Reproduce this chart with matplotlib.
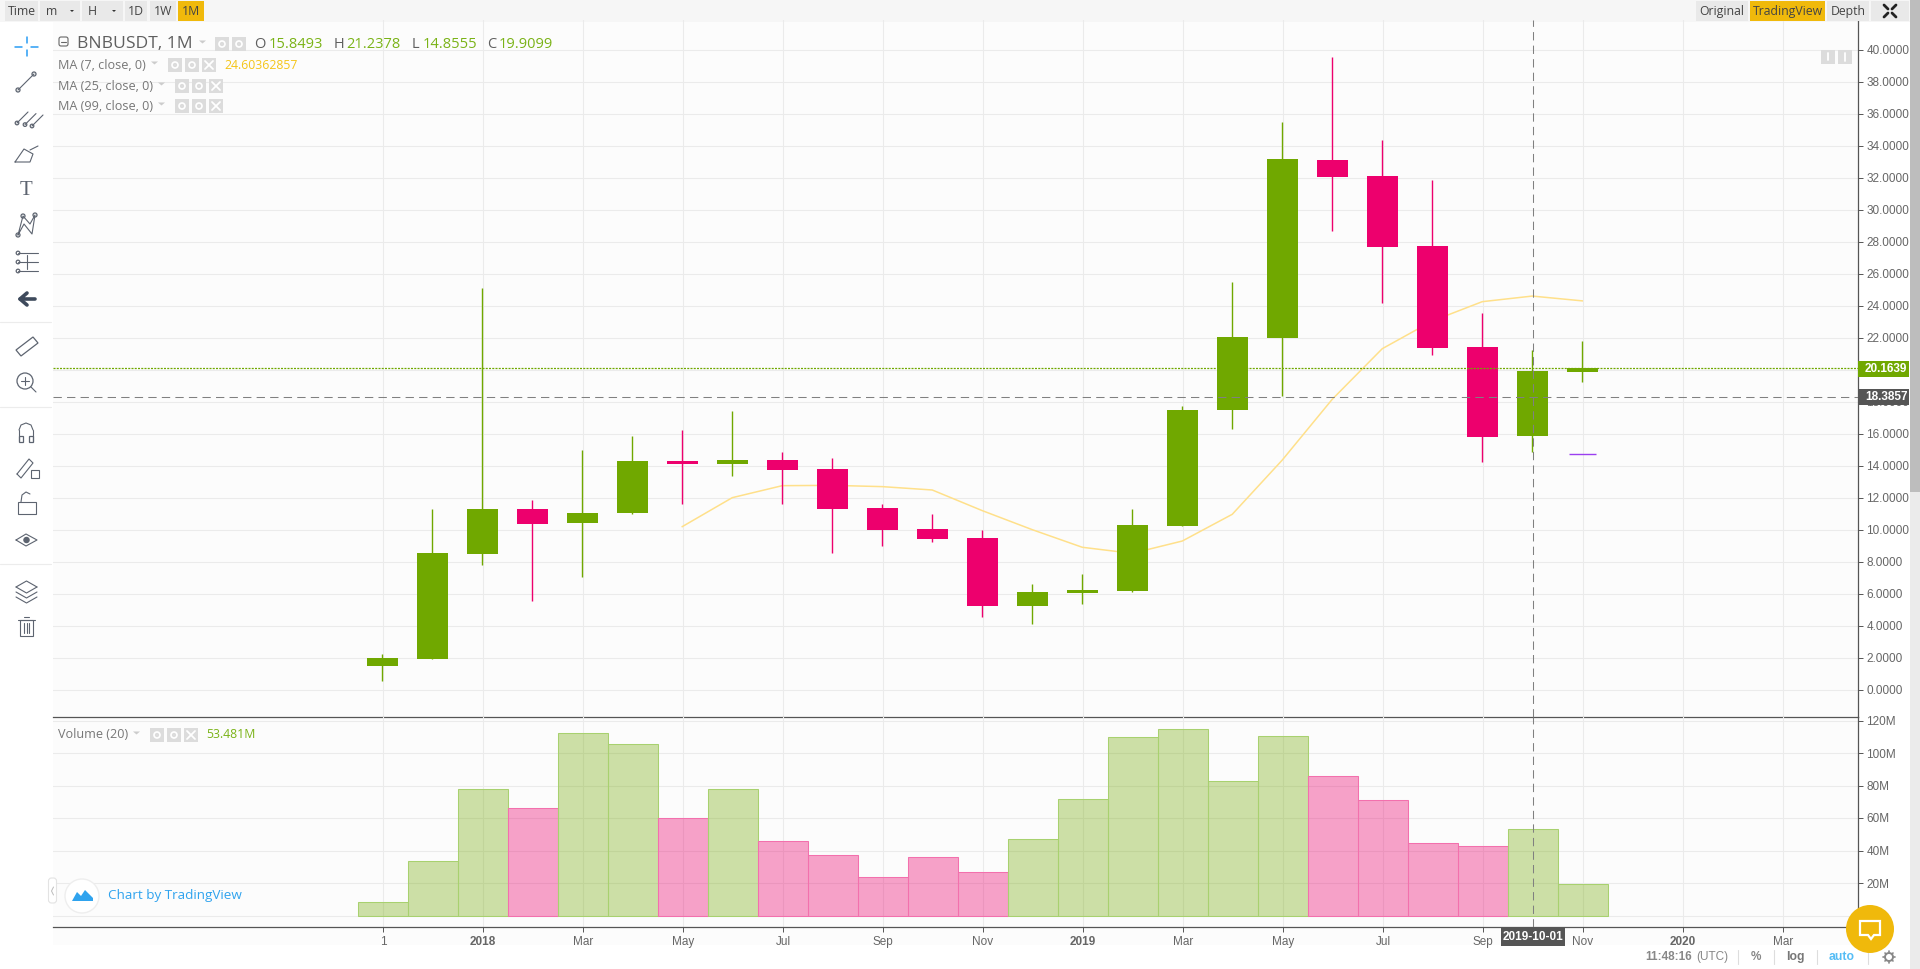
#!/usr/bin/env python3
import matplotlib
matplotlib.use("Agg")
import matplotlib.pyplot as plt
from matplotlib.patches import Rectangle, Circle, Polygon, FancyBboxPatch

W, H = 1920, 969

# ---------- data ----------
months = ["2017-11", "2017-12", "2018-01", "2018-02", "2018-03", "2018-04", "2018-05", "2018-06", "2018-07",
          "2018-08", "2018-09", "2018-10", "2018-11", "2018-12", "2019-01", "2019-02", "2019-03", "2019-04",
          "2019-05", "2019-06", "2019-07", "2019-08", "2019-09", "2019-10", "2019-11"]
opens  = [1.48, 1.92, 8.48, 11.29, 10.42, 11.04, 14.29, 14.10, 14.35, 13.79, 11.35, 10.04, 9.48, 5.23, 6.04,
          6.17, 10.23, 17.48, 21.96, 33.08, 32.08, 27.71, 21.40, 15.8493, 19.83]
closes = [1.98, 8.54, 11.29, 10.35, 11.04, 14.29, 14.10, 14.35, 13.73, 11.29, 9.98, 9.42, 5.23, 6.10, 6.23,
          10.29, 17.50, 22.02, 33.15, 32.02, 27.65, 21.33, 15.77, 19.9099, 20.13]
highs  = [2.23, 11.31, 25.10, 11.85, 14.96, 15.87, 16.23, 17.44, 14.85, 14.48, 11.60, 11.00, 9.98, 6.60, 7.23,
          11.31, 17.73, 25.46, 35.48, 39.54, 34.33, 31.83, 23.54, 21.2378, 21.79]
lows   = [0.54, 1.92, 7.77, 5.54, 7.02, 10.98, 11.60, 13.33, 11.60, 8.54, 8.98, 9.23, 4.54, 4.10, 5.35,
          6.10, 10.20, 16.27, 18.35, 28.67, 24.15, 20.90, 14.25, 14.8555, 19.25]
volumes = [8.2, 33.5, 77.9, 66.2, 112.4, 105.7, 60.0, 77.9, 45.8, 37.2, 23.6, 36.2, 26.7, 47.1, 71.7, 110.0,
           114.9, 82.8, 110.2, 85.9, 71.1, 44.6, 42.8, 53.481, 19.3]
ma7_index = list(range(6, 25))
ma7 = [10.19, 12.00, 12.75, 12.77, 12.69, 12.48, 11.19, 10.00, 8.90, 8.52, 9.29, 10.96, 14.35, 18.15, 21.31,
       23.04, 24.25, 24.60, 24.30]

price_ticks = list(range(0, 42, 2))
volume_ticks = [20, 40, 60, 80, 100, 120]
x_ticks = list(range(0, 30, 2))
x_labels = ["1", "2018", "Mar", "May", "Jul", "Sep", "Nov", "2019", "Mar", "May", "Jul", "Sep", "Nov", "2020", "Mar"]
bold_labels = {"2018", "2019", "2020"}

last_line = 20.08
cross_line = 18.31
cross_month = 23
mark_price = 14.75
mark_month = 24

# ---------- colours ----------
GREEN = "#70a800"
PINK = "#ed006d"
BG = "#fcfcfc"
GRID = "#ebebeb"
AXIS = "#555555"
TXT = "#666666"
ORANGE = "#f0b90b"
BLUE = "#2fa3ee"
ICON = "#5d6470"
SANS = "Open Sans"
ARIAL = "Liberation Sans"

plt.rcParams["font.family"] = ARIAL
fig = plt.figure(figsize=(W / 100, H / 100), dpi=100, facecolor="white")


def add_px_axes(x0, y0, x1, y1, **kw):
    return fig.add_axes([x0 / W, 1 - y1 / H, (x1 - x0) / W, (y1 - y0) / H], **kw)


# axis ranges come from the pixel layout of the page
def x_lim():
    return (53 - 383) / 50, (1858.5 - 383) / 50


back = add_px_axes(0, 0, W, H, zorder=0)
back.set_xlim(0, W); back.set_ylim(H, 0); back.axis("off")
back.add_patch(Rectangle((53, 20), 1806, 925, fc=BG, ec="none"))
back.add_patch(Rectangle((0, 0), 1910, 22, fc="#f6f6f6", ec="none"))

# ---------- price panel ----------
ax = add_px_axes(53, 20, 1858.5, 717, zorder=1)
ax.patch.set_alpha(0)
ax.set_xlim(*x_lim())
ax.set_ylim((689.67 - 717) / 16, (689.67 - 20) / 16)
ax.set_yticks(price_ticks)
ax.set_yticklabels([f"{v:.4f}" for v in price_ticks], fontsize=8.5, color=TXT)
ax.set_xticks(x_ticks)
ax.tick_params(axis="y", left=False, labelleft=False, right=True, labelright=True, length=3.6, width=0.7,
               color=AXIS, pad=2)
ax.tick_params(axis="x", bottom=False, labelbottom=False)
ax.set_axisbelow(True)
ax.grid(True, color=GRID, linewidth=0.8)
for name, spine in ax.spines.items():
    spine.set_visible(name in ("right", "bottom"))
    spine.set_color(AXIS)
    spine.set_linewidth(0.9)

idx = list(range(len(months)))
cx = [i - 0.015 for i in idx]
colors = [GREEN if c >= o else PINK for o, c in zip(opens, closes)]
ax.plot([cx[i] for i in ma7_index], ma7, color="#ffe08a", linewidth=1.1, zorder=2)
ax.vlines(cx, lows, highs, colors=colors, linewidth=1.0, zorder=3)
ax.bar(cx, [abs(c - o) for o, c in zip(opens, closes)], bottom=[min(o, c) for o, c in zip(opens, closes)],
       width=0.62, color=colors, linewidth=0, zorder=4)
ax.hlines(mark_price, mark_month - 0.27, mark_month + 0.27, color="#9b3ff0", linewidth=1.0, zorder=4)
ax.axhline(last_line, color=GREEN, linewidth=0.9, linestyle=(0, (1.6, 1)), zorder=5)
ax.axhline(cross_line, color="#808080", linewidth=0.75, linestyle=(0, (8, 5)), zorder=5)
ax.axvline(cross_month, color="#808080", linewidth=0.75, linestyle=(0, (8, 5)), zorder=5)

# ---------- volume panel ----------
av = add_px_axes(53, 717, 1858.5, 927, zorder=1)
av.patch.set_alpha(0)
av.set_xlim(*x_lim())
av.set_ylim((915.5 - 927) / 1.625, (915.5 - 717) / 1.625)
av.set_yticks([0] + volume_ticks)
av.set_yticklabels([""] + [f"{v}M" for v in volume_ticks], fontsize=8.5, color=TXT)
av.set_xticks(x_ticks)
av.set_xticklabels(x_labels, fontsize=8.5, color=TXT)
for t in av.get_xticklabels():
    if t.get_text() in bold_labels:
        t.set_fontweight("bold")
av.tick_params(axis="y", left=False, labelleft=False, right=True, labelright=True, length=3.6, width=0.7,
               color=AXIS, pad=2)
av.tick_params(axis="x", length=3.6, width=0.7, color=AXIS, pad=3)
av.set_axisbelow(True)
av.grid(True, color=GRID, linewidth=0.8)
for name, spine in av.spines.items():
    spine.set_visible(name in ("right", "bottom"))
    spine.set_color(AXIS)
    spine.set_linewidth(0.9)
fills = [(0.44, 0.66, 0.0, 0.34) if c == GREEN else (0.93, 0.0, 0.43, 0.36) for c in colors]
edges = ["#a8d16f" if c == GREEN else "#f370ad" for c in colors]
av.bar(idx, volumes, width=1.0, color=fills, edgecolor=edges, linewidth=0.75, zorder=3)
av.axvline(cross_month, color="#808080", linewidth=0.75, linestyle=(0, (8, 5)), zorder=5)

# ---------- page furniture, in pixels ----------
ov = add_px_axes(0, 0, W, H, zorder=5)
ov.set_xlim(0, W); ov.set_ylim(H, 0); ov.axis("off"); ov.patch.set_alpha(0)


def line(xs, ys, color=ICON, lw=1.0):
    ov.plot(xs, ys, color=color, linewidth=lw, solid_capstyle="round")


def ring(x, y, r, color=ICON, lw=0.9, fc="none"):
    ov.add_patch(Circle((x, y), r, fc=fc, ec=color, lw=lw))


def box(x0, y0, x1, y1, fc, ec="none"):
    ov.add_patch(Rectangle((x0, y0), x1 - x0, y1 - y0, fc=fc, ec=ec, lw=0.8))


def label(x, y, s, size=8.5, color=TXT, ha="left", weight="normal", family=ARIAL):
    ov.text(x, y, s, fontsize=size, color=color, ha=ha, va="center", fontweight=weight, family=family)


# top bar buttons
for x0, x1, s, fc in [(5, 38, "Time", "#e9e9e9"), (40, 80, "m", "#e9e9e9"), (82, 123, "H", "#e9e9e9"),
                      (125, 147, "1D", "#e9e9e9"), (150, 176, "1W", "#e9e9e9"), (178, 204, "1M", ORANGE)]:
    box(x0, 1, x1, 21, fc)
    if s in ("m", "H"):
        label(x0 + 6, 11, s, 8.8, "#444444", family=SANS)
        ov.add_patch(Polygon([(x0 + 30, 10), (x0 + 34, 10), (x0 + 32, 12)], fc="#333333", ec="none"))
    else:
        label((x0 + x1) / 2, 11, s, 8.8, "#444444", ha="center", family=SANS)
for x0, x1, s, fc in [(1696, 1748, "Original", "#e9e9e9"), (1750, 1825, "TradingView", ORANGE),
                      (1827, 1869, "Depth", "#e9e9e9")]:
    box(x0, 1, x1, 21, fc)
    label((x0 + x1) / 2, 11, s, 8.8, "#444444", ha="center", family=SANS)
box(1871, 1, 1909, 21, "#e9e9e9")
for sx, sy in [(-1, -1), (1, -1), (-1, 1), (1, 1)]:
    line([1890 + sx * 2, 1890 + sx * 6], [11 + sy * 2, 11 + sy * 6], "#222222", 2.0)

# scroll bar
back.add_patch(Rectangle((1910, 0), 10, H, fc="#ebebeb", ec="none"))
back.add_patch(Rectangle((1910, 0), 10, 492, fc="#bdbdbd", ec="none"))

# legend
ov.add_patch(FancyBboxPatch((59, 37), 9, 9, boxstyle="round,pad=0,rounding_size=2", fc="none", ec="#666666", lw=0.8))
line([61, 66], [41.5, 41.5], "#666666", 0.8)
label(77, 43.5, "BNBUSDT, 1M", 12.6, "#5f5f5f", family=SANS)


def legend_icons(x0, y, n, step=17):
    for k in range(n):
        bx = x0 + k * step
        box(bx, y - 7, bx + 14, y + 7, "#dcdcdc")
        if k == 2:
            line([bx + 3, bx + 11], [y - 4, y + 4], "white", 1.3)
            line([bx + 3, bx + 11], [y + 4, y - 4], "white", 1.3)
        else:
            ring(bx + 7, y, 3, "white", 1.2)


def caret(x, y):
    ov.add_patch(Polygon([(x, y - 1.5), (x + 7, y - 1.5), (x + 3.5, y + 1.5)], fc="#cccccc", ec="none"))


caret(199, 42)
legend_icons(215, 44, 2)
for xl, letter, xv, value in [(254, "O", 269, "15.8493"), (334, "H", 346.5, "21.2378"),
                              (412, "L", 422.5, "14.8555"), (487, "C", 499, "19.9099")]:
    label(xl, 44, letter, 10.5, "#5f5f5f", family=SANS)
    label(xv, 44, value, 10.5, "#7ab317", family=SANS)
for y, s, xi, xv in [(65, "MA (7, close, 0)", 168, 224), (86, "MA (25, close, 0)", 175, None),
                     (106, "MA (99, close, 0)", 175, None)]:
    label(58, y, s, 9.1, "#777777", family=SANS)
    caret(xi - 17, y - 2)
    legend_icons(xi, y, 3)
    if xv:
        label(xv, y, "24.60362857", 8.8, "#f5c518", family=SANS)
label(58, 734, "Volume (20)", 9.1, "#777777", family=SANS)
caret(133, 733)
legend_icons(150, 735, 3)
label(206, 734, "53.481M", 8.8, "#7ab317", family=SANS)

# small buttons, top right of the chart
box(1821, 50, 1835, 64, "#dcdcdc")
box(1838, 50, 1852, 64, "#dcdcdc")
line([1828, 1828], [53, 60], "white", 1.3)
line([1845, 1845], [53, 61], "white", 1.3)

# price labels on the axis
box(1858, 361, 1909, 377, GREEN)
label(1865, 369, "20.1639", 8.5, "white", weight="bold")
box(1858, 389, 1909, 405, "#555555")
label(1865, 397, "18.3857", 8.5, "white", weight="bold")
box(1501, 927, 1565, 946, "#555555")
label(1533, 937, "2019-10-01", 8.5, "white", ha="center", weight="bold")

# watermark
ov.add_patch(FancyBboxPatch((48.5, 878), 8, 25, boxstyle="round,pad=0,rounding_size=3", fc="white", ec="#e3e3e3", lw=0.8))
line([53.5, 51.5, 53.5], [887, 891, 895], "#bbbbbb", 0.7)
ring(82, 896, 17, "#eeeeee", 1.0, "white")
ov.add_patch(Polygon([(72, 901), (77, 892), (81, 896), (85, 890), (93, 898), (93, 901)], fc=BLUE, ec="none"))
label(108, 895, "Chart by TradingView", 9.7, BLUE, family=SANS)

# status line
label(1645, 957, "11:48:16", 8.5, "#888888", weight="bold")
label(1696, 957, "(UTC)", 8.5, "#888888")
for x in [1738, 1774, 1817, 1868]:
    line([x, x], [950, 964], "#dddddd", 0.8)
label(1756, 957, "%", 8.5, "#888888", ha="center", weight="bold")
label(1795, 957, "log", 8.8, "#777777", ha="center", weight="bold")
label(1842, 957, "auto", 8.8, "#56bdf5", ha="center", weight="bold")
ring(1889, 957, 4, "#888888", 1.4)
for dx, dy in [(0, -6), (0, 6), (-6, 0), (6, 0), (-4, -4), (4, -4), (-4, 4), (4, 4)]:
    line([1889 + dx * 0.8, 1889 + dx], [957 + dy * 0.8, 957 + dy], "#888888", 1.2)

# chat bubble
ov.add_patch(Circle((1870, 929), 24, fc=ORANGE, ec="none", zorder=6))
ov.add_patch(Polygon([(1860, 921), (1880, 921), (1880, 935), (1874, 935), (1871, 939), (1868, 935), (1860, 935)],
                     fc=ORANGE, ec="white", lw=1.6, zorder=7))

# left tool bar, simplified glyphs
for y in [322, 407, 564]:
    line([0, 51], [y, y], "#ececec", 0.8)
line([15, 22], [46.5, 46.5], "#2a9df4", 1.1)
line([31, 38], [46.5, 46.5], "#2a9df4", 1.1)
line([26.5, 26.5], [37, 43], "#2a9df4", 1.1)
line([26.5, 26.5], [50, 56], "#2a9df4", 1.1)
# trend line
line([18, 34], [90, 74], lw=0.8); ring(18, 90, 2); ring(34, 74, 2)
# channel
for d in [0, 8, 15]:
    line([17 + d, 28 + d], [123 + d * 0.2, 112 + d * 0.2], lw=0.8); ring(17 + d, 123 + d * 0.2, 1.8)
# brush
line([15, 30, 33, 24, 15], [162, 162, 154, 149, 162], lw=0.8); line([30, 38], [150, 146], lw=0.8)
# text
label(26.5, 190, "T", 15, ICON, ha="center", family="Liberation Serif")
# pattern
line([18, 23, 30, 35, 32, 24, 18], [235, 216, 224, 215, 234, 224, 235], lw=0.8)
ring(18, 235, 2); ring(35, 215, 2); ring(23, 216, 2)
# fib
for y in [253, 262, 271]:
    line([18, 38], [y, y], lw=0.8); ring(18, y, 1.8)
line([27, 27], [255, 269], lw=0.8)
# back arrow
line([35, 20, 27], [299, 299, 293], "#3e4a5c", 2.6); line([20, 27], [299, 305], "#3e4a5c", 2.6)
# ruler
ov.add_patch(Polygon([(16, 350), (33, 337), (38, 343), (21, 356)], fc="none", ec=ICON, lw=0.9))
# zoom
ring(25, 381, 8); line([31, 36], [387, 392], lw=0.8); line([21, 29], [381, 381], lw=0.8); line([25, 25], [377, 385], lw=0.8)
# magnet
line([19, 19], [441, 430], lw=0.8); line([33, 33], [441, 430], lw=0.8)
ov.add_patch(Rectangle((19, 436), 4, 6, fc="none", ec=ICON, lw=0.9))
ov.add_patch(Rectangle((29, 436), 4, 6, fc="none", ec=ICON, lw=0.9))
line([19, 21, 26, 31, 33], [430, 425, 423, 425, 430], lw=0.8)
# pencil + lock
line([17, 29, 33, 21, 17], [474, 459, 463, 478, 474], lw=0.8); box(31, 470, 39, 478, "none", ICON)
# lock
box(18, 502, 36, 514, "none", ICON); line([21, 22, 26, 30], [502, 495, 492, 494], lw=0.8)
# eye
line([16, 26, 37, 26, 16], [540, 534, 540, 546, 540], lw=0.8); ring(26.5, 540, 2.6, ICON, 0.9, ICON)
# layers
for d in [0, 5, 10]:
    line([16, 26.5, 37], [587 + d, 593 + d, 587 + d], lw=0.8)
line([16, 26.5, 37], [587, 581, 587], lw=0.8)
# trash
box(20, 620, 33, 636, "none", ICON); line([18, 35], [620, 620], lw=0.8); line([24, 29], [617, 617], lw=0.8)
for x in [24, 26.5, 29]:
    line([x, x], [623, 633], lw=0.8)

fig.savefig("out.png", dpi=100, facecolor="white")
plt.close(fig)
